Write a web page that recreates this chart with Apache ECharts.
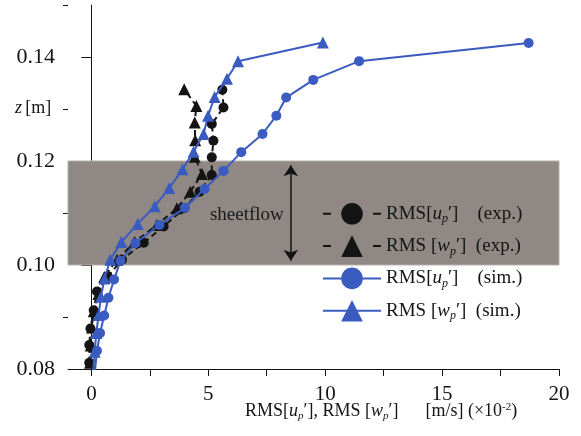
<!DOCTYPE html>
<html>
<head>
<meta charset="utf-8">
<script src="https://cdn.jsdelivr.net/npm/echarts@6/dist/echarts.min.js"></script>
<style>
  html, body { margin: 0; padding: 0; background: #fff; }
  #chart { width: 581px; height: 436px; }
</style>
</head>
<body>
<div id="chart"></div>
<script>
// heights z [m]
const zSim = [0.0795, 0.0835, 0.0869, 0.0903, 0.0937, 0.0972, 0.1008, 0.1042, 0.1077, 0.1110,
  0.1146, 0.1181, 0.1217, 0.1252, 0.1287, 0.1322, 0.1356, 0.1392, 0.1427];
const uSim = [0.15, 0.24, 0.37, 0.55, 0.73, 0.97, 1.24, 1.88, 2.91, 4.0,
  4.84, 5.65, 6.41, 7.32, 7.91, 8.33, 9.49, 11.45, 18.7];
const zSimW = [0.0795, 0.0833, 0.0869, 0.0904, 0.0939, 0.0974, 0.1010, 0.1044, 0.1079, 0.1113,
  0.1148, 0.1184, 0.1218, 0.1252, 0.1287, 0.1323, 0.1358, 0.1392, 0.1428];
const wSim = [0.08, 0.14, 0.21, 0.31, 0.41, 0.56, 0.81, 1.28, 1.98, 2.71,
  3.33, 3.9, 4.37, 4.8, 4.99, 5.27, 5.8, 6.27, 9.9];

const zExp = [0.0812, 0.0846, 0.0878, 0.0913, 0.0949, 0.0978, 0.1010, 0.1043, 0.1074, 0.1109,
  0.1141, 0.1173, 0.1207, 0.1239, 0.1271, 0.1303, 0.1337];
const uExp = [-0.09, -0.09, -0.04, 0.1, 0.24, 0.7, 1.31, 2.24, 3.09, 3.97,
  4.63, 5.15, 5.15, 5.22, 5.15, 5.65, 5.6];
const zExpW = [0.0812, 0.0845, 0.0880, 0.0911, 0.0944, 0.0977, 0.1010, 0.1044, 0.1077, 0.1109,
  0.1141, 0.1175, 0.1208, 0.1240, 0.1274, 0.1306, 0.1338];
const wExp = [-0.06, -0.03, 0.02, 0.1, 0.3, 0.55, 1.1, 1.85, 2.8, 3.66,
  4.23, 4.73, 4.42, 4.44, 4.42, 4.49, 3.97];

// sheetflow layer and annotation
const sheetBand = [0.10, 0.12];
const arrowEnds = [[8.53, 0.1192], [8.53, 0.1008]];
const sheetLabelAt = [6.65, 0.1097];

const xTicks = [0, 2.5, 5, 7.5, 10, 12.5, 15, 17.5, 20];
const xLabels = [0, 5, 10, 15, 20];
const yMajor = [0.08, 0.10, 0.12, 0.14];
const yMinor = [0.09, 0.11, 0.13, 0.15];

const BLUE = '#3a5bbf';
const INK = '#141414';
const SERIF = '"Liberation Serif", "DejaVu Serif", serif';

const pair = (xs, zs) => xs.map((v, i) => [v, zs[i]]);

const rich = {
  r: { fontFamily: SERIF, fontSize: 19, color: INK },
  i: { fontFamily: SERIF, fontSize: 19, fontStyle: 'italic', color: INK },
  s: { fontFamily: SERIF, fontSize: 12, fontStyle: 'italic', color: INK, padding: [11, 0, 0, 0] }
};

const legendText = {
  uExp: '{r|RMS[}{i|u}{s|p}{r|′]    (exp.)}',
  wExp: '{r|RMS [}{i|w}{s|p}{r|′]  (exp.)}',
  uSim: '{r|RMS[}{i|u}{s|p}{r|′]    (sim.)}',
  wSim: '{r|RMS [}{i|w}{s|p}{r|′]  (sim.)}'
};

const chart = echarts.init(document.getElementById('chart'), null, { renderer: 'canvas' });

const legendDash = { color: INK, width: 2, type: [8, 42] };

const option = {
  animation: false,
  grid: { left: 68, right: 22, top: 5, bottom: 67 },
  xAxis: {
    type: 'value',
    min: -1,
    max: 20,
    axisLine: { lineStyle: { color: INK, width: 1 } },
    axisTick: { length: 7, lineStyle: { color: INK }, customValues: xTicks },
    axisLabel: {
      customValues: xLabels,
      margin: 15,
      fontFamily: SERIF,
      fontSize: 21,
      color: INK
    },
    splitLine: { show: false }
  },
  yAxis: [
    {
      type: 'value',
      min: 0.08,
      max: 0.15,
      axisLine: { lineStyle: { color: INK, width: 1 } },
      axisTick: { length: 10, lineStyle: { color: INK }, customValues: yMajor },
      axisLabel: {
        customValues: yMajor,
        margin: 13,
        fontFamily: SERIF,
        fontSize: 22,
        color: INK,
        formatter: v => v.toFixed(2)
      },
      splitLine: { show: false }
    },
    {
      type: 'value',
      min: 0.08,
      max: 0.15,
      position: 'left',
      axisLine: { show: false },
      axisTick: { length: 5, lineStyle: { color: INK }, customValues: yMinor },
      axisLabel: { show: false },
      splitLine: { show: false }
    }
  ],
  legend: {
    data: [
      { name: 'uExp', lineStyle: legendDash },
      { name: 'wExp', lineStyle: legendDash },
      { name: 'uSim' },
      { name: 'wSim' }
    ],
    orient: 'vertical',
    left: 322,
    top: 203,
    padding: 0,
    itemWidth: 58,
    itemHeight: 27,
    itemGap: 10,
    formatter: name => legendText[name],
    textStyle: { fontFamily: SERIF, fontSize: 19, color: INK, rich: rich }
  },
  graphic: [
    {
      type: 'text',
      left: 15,
      top: 99,
      style: {
        text: '{i|z} {r|[m]}',
        rich: {
          i: { fontFamily: SERIF, fontSize: 18, fontStyle: 'italic', fill: INK },
          r: { fontFamily: SERIF, fontSize: 18, fill: INK }
        }
      }
    },
    {
      type: 'text',
      left: 245,
      top: 402,
      style: {
        text: '{r|RMS[}{i|u}{s|p}{r|′], RMS [}{i|w}{s|p}{r|′]      [m/s] (×10}{sup|-2}{r|)}',
        rich: {
          r: { fontFamily: SERIF, fontSize: 18, fill: INK },
          i: { fontFamily: SERIF, fontSize: 18, fontStyle: 'italic', fill: INK },
          s: { fontFamily: SERIF, fontSize: 11, fontStyle: 'italic', fill: INK, padding: [10, 0, 0, 0] },
          sup: { fontFamily: SERIF, fontSize: 11, fill: INK, padding: [0, 0, 8, 0] }
        }
      }
    }
  ],
  series: [
    {
      name: 'band',
      type: 'line',
      data: [],
      z: 1,
      markArea: {
        silent: true,
        itemStyle: { color: '#8f8885', borderColor: '#b5afac', borderWidth: 1 },
        data: [[{ yAxis: sheetBand[0] }, { yAxis: sheetBand[1] }]]
      },
      markLine: {
        silent: true,
        symbol: ['arrow', 'arrow'],
        symbolSize: 11,
        label: { show: false },
        lineStyle: { color: INK, width: 1.5, type: 'solid' },
        data: [[{ coord: arrowEnds[0] }, { coord: arrowEnds[1] }]]
      },
      markPoint: {
        silent: true,
        symbol: 'circle',
        symbolSize: 0,
        label: {
          show: true,
          position: 'inside',
          formatter: 'sheetflow',
          fontFamily: SERIF,
          fontSize: 19,
          color: '#1a1a1a'
        },
        data: [{ coord: sheetLabelAt }]
      }
    },
    {
      name: 'uExp',
      type: 'line',
      data: pair(uExp, zExp),
      symbol: 'circle',
      symbolSize: 10,
      color: INK,
      lineStyle: { color: INK, width: 2, type: [6, 4] },
      itemStyle: { color: INK },
      z: 3
    },
    {
      name: 'wExp',
      type: 'line',
      data: pair(wExp, zExpW),
      symbol: 'triangle',
      symbolSize: 12,
      color: INK,
      lineStyle: { color: INK, width: 2, type: [6, 4] },
      itemStyle: { color: INK },
      z: 3
    },
    {
      name: 'uSim',
      type: 'line',
      data: pair(uSim, zSim),
      symbol: 'circle',
      symbolSize: 10,
      color: BLUE,
      lineStyle: { color: BLUE, width: 2 },
      itemStyle: { color: BLUE },
      z: 4
    },
    {
      name: 'wSim',
      type: 'line',
      data: pair(wSim, zSimW),
      symbol: 'triangle',
      symbolSize: 12,
      color: BLUE,
      lineStyle: { color: BLUE, width: 2 },
      itemStyle: { color: BLUE },
      z: 4
    }
  ]
};

chart.setOption(option);
</script>
</body>
</html>
